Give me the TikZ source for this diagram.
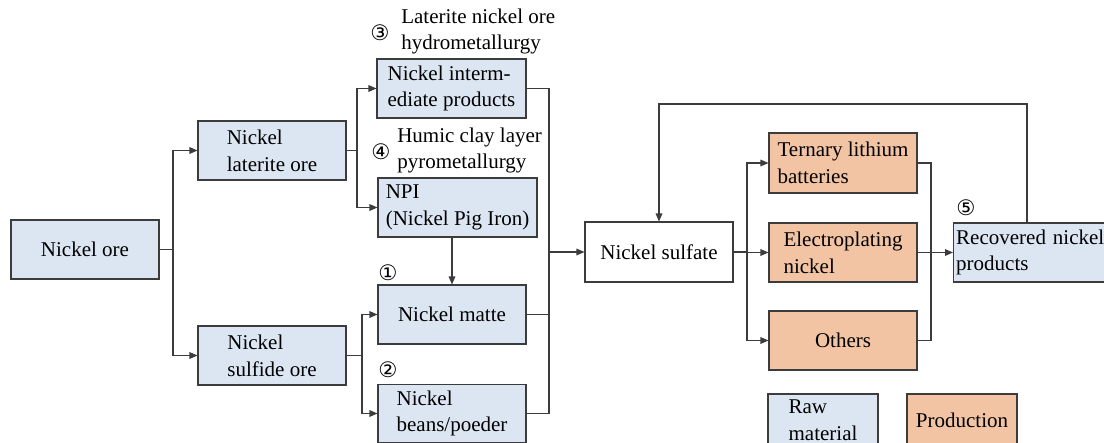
\documentclass[tikz,border=0pt]{standalone}
\usepackage{fontspec}
\setmainfont{Liberation Serif}
\newfontfamily\circfont{DejaVu Sans}
\usetikzlibrary{arrows.meta}
\definecolor{rawblue}{HTML}{DCE6F2}
\definecolor{prodorange}{HTML}{F2C4A4}
\definecolor{edgegray}{HTML}{3C3C3C}
\begin{document}
\begin{tikzpicture}[x=0.75pt,y=-0.75pt,
  every node/.style={font=\fontsize{15.75}{20}\selectfont},
  box/.style={draw=edgegray,line width=0.8pt,minimum width=111pt,minimum height=44.25pt,inner sep=0pt,align=left},
  raw/.style={box,fill=rawblue},
  prod/.style={box,fill=prodorange},
  plain/.style={box,fill=white},
  conn/.style={draw=edgegray,line width=0.8pt},
  arr/.style={conn,-{Triangle[length=6pt,width=5pt]}},
  circ/.style={font=\circfont\fontsize{16}{16}\selectfont,inner sep=0pt},
  lab/.style={align=left,anchor=west,inner sep=0pt,font=\fontsize{15.75}{19.5}\selectfont}]
\useasboundingbox (0,0) rectangle (1104,443);
% nodes
\node[raw] (ore) at (85,249.5) {Nickel ore};
\node[raw] (lat) at (272,150.5) {Nickel\\laterite ore};
\node[raw] (sul) at (272,355.5) {Nickel\\sulfide ore};
\node[raw,minimum width=111.75pt] (inter) at (451.5,88.5) {Nickel interm-\\ediate products};
\node[raw,minimum width=119.25pt] (npi) at (457.5,207.5) {NPI\\(Nickel Pig Iron)};
\node[raw] (matte) at (452,314.5) {Nickel matte};
\node[raw,minimum height=43.5pt] (beans) at (452,413.5) {Nickel\\beans/poeder};
\node[plain,minimum height=45pt] (sulf) at (659,252) {Nickel sulfate};
\node[prod,minimum height=45pt] (tern) at (843,163) {Ternary lithium\\batteries};
\node[prod] (elec) at (843,252.5) {Electroplating\\nickel};
\node[prod] (oth) at (843,340.5) {Others};
\node[raw,minimum width=114pt,anchor=west,text width=118pt,inner xsep=2pt] (rec) at (953,252.5) {Recovered nickel\\products};
\node[raw,minimum width=82.5pt,minimum height=39pt] (lraw) at (823,420) {Raw\\material};
\node[prod,minimum width=82.5pt,minimum height=39pt] (lprod) at (962,420) {Production};
% labels
\node[circ] (c3) at (380,33) {③};
\node[lab] (t3) at (401,31) {Laterite nickel ore\\hydrometallurgy};
\node[circ] (c4) at (381,152) {④};
\node[lab] (t4) at (397,150) {Humic clay layer\\pyrometallurgy};
\node[circ] (c1) at (388,273) {①};
\node[circ] (c2) at (388,370) {②};
\node[circ] (c5) at (966,208) {⑤};
% junctions
\coordinate (j1) at (173,249.5);
\coordinate (j2) at (357,150.5);
\coordinate (j3) at (362,355.5);
\coordinate (j4) at (549,252);
\coordinate (j5) at (747,252);
\coordinate (j6) at (931,252.5);
\coordinate (f1) at (1027,104);
\coordinate (f2) at (659,104);
% connectors
\draw[conn] (ore.east) -- (j1);
\draw[arr] (j1) |- (lat.west);
\draw[arr] (j1) |- (sul.west);
\draw[conn] (lat.east) -- (j2);
\draw[arr] (j2) |- (inter.west);
\draw[arr] (j2) |- (npi.west);
\draw[conn] (sul.east) -- (j3);
\draw[arr] (j3) |- (matte.west);
\draw[arr] (j3) |- (beans.west);
\draw[arr] (npi.south -| matte.north) -- (matte.north);
\draw[conn] (inter.east) -| (j4);
\draw[conn] (beans.east) -| (j4);
\draw[conn] (matte.east) -| (j4);
\draw[arr] (j4) -- (sulf.west);
\draw[conn] (sulf.east) -- (j5);
\draw[arr] (j5) |- (tern.west);
\draw[arr] (j5) |- (elec.west);
\draw[arr] (j5) |- (oth.west);
\draw[conn] (tern.east) -| (j6);
\draw[conn] (oth.east) -| (j6);
\draw[conn] (elec.east) -- (j6);
\draw[arr] (j6) -- (rec.west);
\draw[arr] (rec.north -| f1) -- (f1) -- (f2) -- (sulf.north);
\end{tikzpicture}
\end{document}
